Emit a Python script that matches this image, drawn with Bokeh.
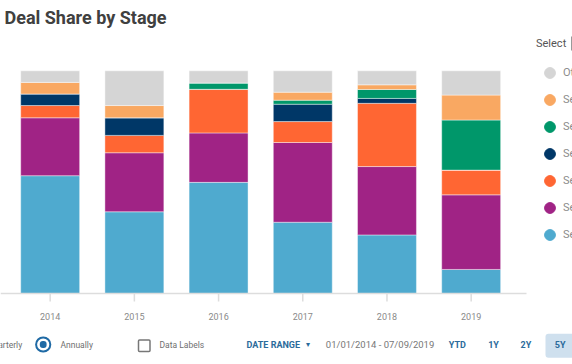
from bokeh.plotting import figure
from bokeh.models import (Range1d, Legend, LegendItem, Label,
                          BoxAnnotation, ColumnDataSource)
from bokeh.core.properties import value
from bokeh.embed import file_html
from bokeh.resources import INLINE

# ---- data (percent share of deals per stage) ----
years = [2014, 2015, 2016, 2017, 2018, 2019]
year_labels = ["2014", "2015", "2016", "2017", "2018", "2019"]
seed      = [52.9, 36.7, 49.9, 32.0, 26.3, 10.8]
series_a  = [26.0, 26.5, 22.2, 35.8, 30.7, 33.5]
series_b  = [5.5, 7.8, 19.6, 9.4, 28.4, 11.1]
series_c  = [5.2, 7.9, 0.0, 7.8, 2.2, 0.0]
series_d  = [0.0, 0.0, 2.8, 1.8, 4.0, 22.5]
series_e  = [5.2, 5.5, 0.0, 3.6, 2.1, 11.2]
other     = [5.2, 15.6, 5.5, 9.6, 6.3, 10.9]

stages = ["Seed", "Series A", "Series B", "Series C", "Series D", "Series E+", "Other"]
colors = ["#4faacf", "#a02385", "#ff6633", "#003767", "#00976a", "#f9a862", "#d5d5d5"]
keys = ["seed", "a", "b", "c", "d", "e", "other"]

source = ColumnDataSource(dict(year=years, label=year_labels, seed=seed, a=series_a,
                               b=series_b, c=series_c, d=series_d, e=series_e, other=other))

# layout: the frame fills the canvas; ranges are chosen so the plot area sits
# between the title and the controls
W, H = 572, 364
px_per_year = 84.2
px_per_pct = 2.227
x_start = 2013.41
x_axis_end = 2019.657
plot_bottom_px = 293
plot_top_px = 70.3
y_start = -(H - plot_bottom_px) / px_per_pct
y_end = 100 + plot_top_px / px_per_pct
x_end = x_start + W / px_per_year

p = figure(width=W, height=H, output_backend="svg", toolbar_location=None,
           x_range=Range1d(x_start, x_end), y_range=Range1d(y_start, y_end),
           x_axis_location=None, y_axis_location=None, min_border=0, margin=0)
p.grid.visible = False
p.outline_line_color = None
p.background_fill_color = "white"
p.border_fill_color = "white"

p.vbar_stack(keys, x="year", width=0.7, color=colors, source=source,
             line_color="white", line_width=0.6, line_alpha=0.7)

# x axis: baseline, ticks and year labels
axis_col = "#dddddd"
p.segment(x0=[x_start], x1=[x_axis_end], y0=[0], y1=[0], line_color=axis_col, line_width=1.5)
p.segment(x0="year", x1="year", y0=0, y1=-8 / px_per_pct, source=source,
          line_color=axis_col, line_width=1.5)
p.text(x="year", y=0, text="label", source=source, y_offset=23,
       text_align="center", text_baseline="middle", text_font=value("Roboto"),
       text_font_size="9px", text_color="#8a8a8a")

# legend (circle markers)
nan = float("nan")
items = []
for name, col in reversed(list(zip(stages, colors))):
    r = p.scatter(x=[nan], y=[nan], marker="circle", color=col)
    items.append(LegendItem(label=name, renderers=[r]))
legend = Legend(items=items, location=(536, H - 248), orientation="vertical",
                glyph_width=27, glyph_height=27, spacing=0, padding=0, margin=0,
                label_standoff=0, label_text_font="Roboto", label_text_font_size="11px",
                label_text_color="#8c8c8c", label_height=27,
                title="Select", title_text_font="Roboto", title_text_font_size="11px",
                title_text_font_style="normal", title_text_color="#555555",
                title_standoff=9, background_fill_alpha=0, border_line_alpha=0)
p.add_layout(legend)

# title
p.add_layout(Label(x=4, y=17, x_units="canvas", y_units="canvas", text="Deal Share by Stage",
                   text_font="Roboto", text_font_size="18px",
                   text_font_style="bold", text_color="#404040", text_baseline="middle"))

# bottom controls
blue = "#2b6b9b"
grey_txt = "#6f6f6f"
def lab(x, text, color=grey_txt, size="8.5px", style="normal", align="left"):
    p.add_layout(Label(x=x, y=344, x_units="canvas", y_units="canvas", text=text,
                       text_font="Roboto", text_font_size=size, text_font_style=style,
                       text_color=color, text_baseline="middle", text_align=align))

def box(l, r, t, b, fill=None, line=None, lw=1, radius=0):
    p.add_layout(BoxAnnotation(left=l, right=r, top=t, bottom=b, left_units="canvas",
                               right_units="canvas", top_units="canvas", bottom_units="canvas",
                               fill_color=fill if fill else "white", fill_alpha=1 if fill else 0,
                               line_color=line if line else "white", line_alpha=1 if line else 0,
                               line_width=lw, border_radius=radius, level="annotation"))

# dropdown divider next to "Select"
box(570.5, 572, 36, 50, fill="#9a9a9a")

box(545, 590, 333.3, 357.3, fill="#cfe0ee", radius=3)
lab(21.7, "Quarterly", align="right")
box(35.6, 49.8, 336.9, 351.1, line="#1f6aa5", lw=2, radius=7)
box(39.3, 46.1, 340.6, 347.4, fill="#1f6aa5", radius=3)
lab(60, "Annually")
box(138, 149.5, 339.5, 351, line="#777777", lw=1.5, radius=1)
lab(159, "Data Labels")
lab(246, "DATE RANGE", color=blue, size="9px", style="bold")
lab(305, "▾", color=blue, size="8px")
lab(325.3, "01/01/2014 - 07/09/2019", color="#777777", size="9.5px")
lab(448.3, "YTD", color=blue, size="9px", style="bold")
lab(487.7, "1Y", color=blue, size="9px", style="bold")
lab(520, "2Y", color=blue, size="9px", style="bold")
lab(554.3, "5Y", color=blue, size="9px", style="bold")

open("out.html", "w").write(file_html(p, INLINE))
